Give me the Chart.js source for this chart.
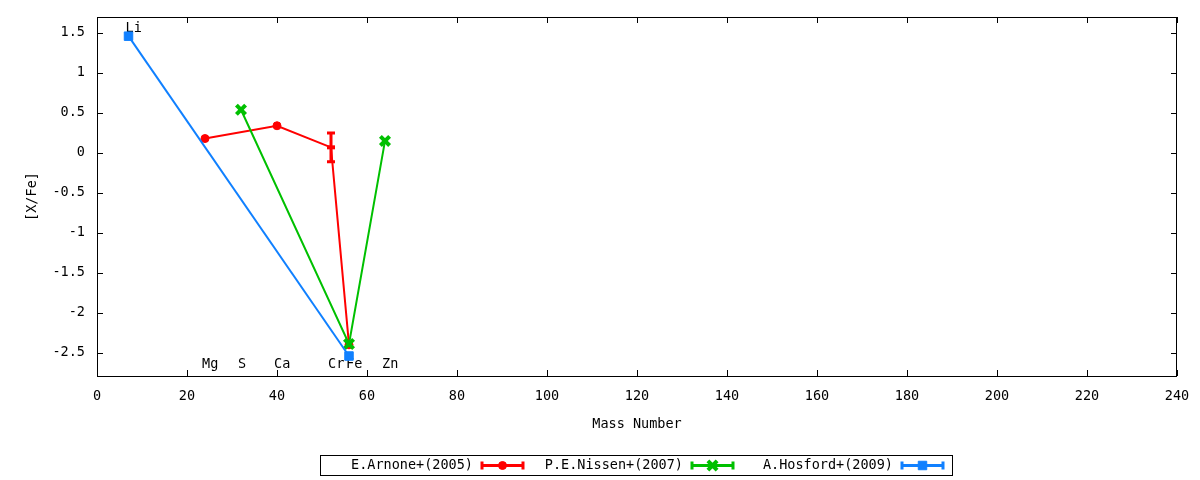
<!DOCTYPE html>
<html>
<head>
<meta charset="utf-8">
<script src="https://cdn.jsdelivr.net/npm/chart.js@4"></script>
<style>
  body { margin: 0; background: #fff; }
  #wrap { width: 1200px; height: 480px; }
</style>
</head>
<body>
<div id="wrap"><canvas id="chart" width="1200" height="480"></canvas></div>
<script>
// [X/Fe] vs mass number
const arnoneMass = [24, 40, 52, 56];
const arnoneXFe = [0.18, 0.34, 0.07, -2.40];
const arnoneErr = [0, 0, 0.18, 0];

const nissenMass = [32, 56, 64];
const nissenXFe = [0.54, -2.39, 0.15];
const nissenErr = [0, 0, 0];

const hosfordMass = [7, 56];
const hosfordXFe = [1.46, -2.54];
const hosfordErr = [0, 0];

const elementNames = ["Li", "Mg", "S", "Ca", "Cr", "Fe", "Zn"];
const elementMass = [7, 24, 32, 40, 52, 56, 64];
const elementLabelY = [1.56, -2.64, -2.64, -2.64, -2.64, -2.64, -2.64];

const xTicks = [0, 20, 40, 60, 80, 100, 120, 140, 160, 180, 200, 220, 240];
const yTicks = [-2.5, -2, -1.5, -1, -0.5, 0, 0.5, 1, 1.5];

const FONT = "'DejaVu Sans Mono', monospace";
Chart.defaults.font.family = FONT;
Chart.defaults.font.size = 13.5;
Chart.defaults.color = "#000";

const points = (xs, ys) => xs.map((x, i) => ({ x, y: ys[i] }));

const SERIES = [
  { label: "E.Arnone+(2005)", color: "#ff0000", mass: arnoneMass, val: arnoneXFe, err: arnoneErr,
    style: "circle", radius: 4, bw: 1, order: 3 },
  { label: "P.E.Nissen+(2007)", color: "#00c000", mass: nissenMass, val: nissenXFe, err: nissenErr,
    style: "crossRot", radius: 6.5, bw: 4, order: 2 },
  { label: "A.Hosford+(2009)", color: "#1080ff", mass: hosfordMass, val: hosfordXFe, err: hosfordErr,
    style: "rect", radius: 6, bw: 1, order: 1 },
];

const fixTicks = (list) => (scale) => {
  scale.ticks = list.map((v) => ({ value: v }));
};

// pin the axis boxes so the plot frame lands where gnuplot put it
const pinBox = (w, h) => (scale) => {
  if (w) scale.width = w;
  if (h) scale.height = h;
  scale.paddingTop = scale.paddingBottom = scale.paddingLeft = scale.paddingRight = 0;
};

// gnuplot-style frame, inward ticks, element labels, error bars, legend
const gnuplotBits = {
  id: "gnuplotBits",
  beforeDatasetsDraw(chart) {
    const { ctx, chartArea: a, scales } = chart;
    ctx.save();
    ctx.strokeStyle = "#000";
    ctx.lineWidth = 1;
    ctx.strokeRect(Math.round(a.left) + 0.5, Math.round(a.top) + 0.5,
      Math.round(a.right - a.left) - 1, Math.round(a.bottom - a.top));
    ctx.beginPath();
    xTicks.forEach((v) => {
      const px = Math.round(scales.x.getPixelForValue(v)) + 0.5;
      ctx.moveTo(px, a.bottom); ctx.lineTo(px, a.bottom - 6);
      ctx.moveTo(px, a.top); ctx.lineTo(px, a.top + 6);
    });
    yTicks.forEach((v) => {
      const py = Math.round(scales.y.getPixelForValue(v)) + 0.5;
      ctx.moveTo(a.left, py); ctx.lineTo(a.left + 6, py);
      ctx.moveTo(a.right, py); ctx.lineTo(a.right - 6, py);
    });
    ctx.stroke();

    ctx.fillStyle = "#000";
    ctx.font = "13.5px " + FONT;
    ctx.textAlign = "left";
    ctx.textBaseline = "middle";
    elementNames.forEach((name, i) => {
      ctx.fillText(name, scales.x.getPixelForValue(elementMass[i]) - 3,
        scales.y.getPixelForValue(elementLabelY[i]));
    });
    ctx.restore();
  },
  afterDatasetDraw(chart, args) {
    const s = SERIES[args.index];
    const { ctx, scales } = chart;
    ctx.save();
    ctx.strokeStyle = s.color;
    ctx.lineWidth = 3;
    s.err.forEach((e, i) => {
      if (!e) return;
      const px = scales.x.getPixelForValue(s.mass[i]);
      const y1 = scales.y.getPixelForValue(s.val[i] + e);
      const y2 = scales.y.getPixelForValue(s.val[i] - e);
      ctx.beginPath();
      ctx.moveTo(px, y1); ctx.lineTo(px, y2);
      ctx.moveTo(px - 4, y1); ctx.lineTo(px + 4, y1);
      ctx.moveTo(px - 4, y2); ctx.lineTo(px + 4, y2);
      ctx.stroke();
    });
    ctx.restore();
  },
  afterDraw(chart) {
    const { ctx } = chart;
    ctx.save();
    ctx.strokeStyle = "#000";
    ctx.lineWidth = 1;
    ctx.strokeRect(320.5, 455.5, 632, 20);
    const textRight = [473, 683, 893];
    const yMid = 465.5;
    ctx.font = "13.5px " + FONT;
    ctx.textAlign = "right";
    ctx.textBaseline = "middle";
    SERIES.forEach((s, i) => {
      ctx.fillStyle = "#000";
      ctx.fillText(s.label, textRight[i], yMid);
      const x0 = textRight[i] + 8, x1 = x0 + 43;
      ctx.strokeStyle = s.color;
      ctx.fillStyle = s.color;
      ctx.lineWidth = 3;
      ctx.beginPath();
      ctx.moveTo(x0, yMid); ctx.lineTo(x1, yMid);
      ctx.moveTo(x0 + 1, yMid - 4); ctx.lineTo(x0 + 1, yMid + 4);
      ctx.moveTo(x1 - 1, yMid - 4); ctx.lineTo(x1 - 1, yMid + 4);
      ctx.stroke();
      ctx.lineWidth = s.bw;
      Chart.helpers.drawPoint(ctx, { pointStyle: s.style, radius: s.radius, borderWidth: s.bw, rotation: 0 },
        (x0 + x1) / 2, yMid);
    });
    ctx.restore();
  },
};

new Chart(document.getElementById("chart").getContext("2d"), {
  type: "scatter",
  data: {
    datasets: SERIES.map((s) => ({
      label: s.label,
      data: points(s.mass, s.val),
      showLine: true,
      borderColor: s.color,
      backgroundColor: s.color,
      borderWidth: 2,
      pointStyle: (c) => (s.err[c.dataIndex] ? "line" : s.style),
      pointRadius: (c) => (s.err[c.dataIndex] ? 4 : s.radius),
      pointBorderWidth: (c) => (s.err[c.dataIndex] ? 4 : s.bw),
      pointBackgroundColor: s.color,
      pointBorderColor: s.color,
      order: s.order,
    })),
  },
  options: {
    responsive: false,
    animation: false,
    layout: { autoPadding: false, padding: { top: 17, right: 23, bottom: 0, left: 0 } },
    plugins: { legend: { display: false }, tooltip: { enabled: false } },
    scales: {
      x: {
        type: "linear",
        min: 0,
        max: 240,
        afterBuildTicks: fixTicks(xTicks),
        afterFit: pinBox(0, 104),
        grid: { display: false, drawTicks: false },
        border: { display: false },
        ticks: { padding: 12, maxRotation: 0, callback: (v) => String(v) },
        title: { display: true, text: "Mass Number", padding: { top: 0, bottom: 47 } },
      },
      y: {
        type: "linear",
        min: -2.79,
        max: 1.7,
        afterBuildTicks: fixTicks(yTicks),
        afterFit: pinBox(97, 0),
        grid: { display: false, drawTicks: false },
        border: { display: false },
        ticks: { padding: 12, callback: (v) => String(v) },
        title: { display: true, text: "[X/Fe]", padding: { top: 24, bottom: 0 } },
      },
    },
  },
  plugins: [gnuplotBits],
});
</script>
</body>
</html>
